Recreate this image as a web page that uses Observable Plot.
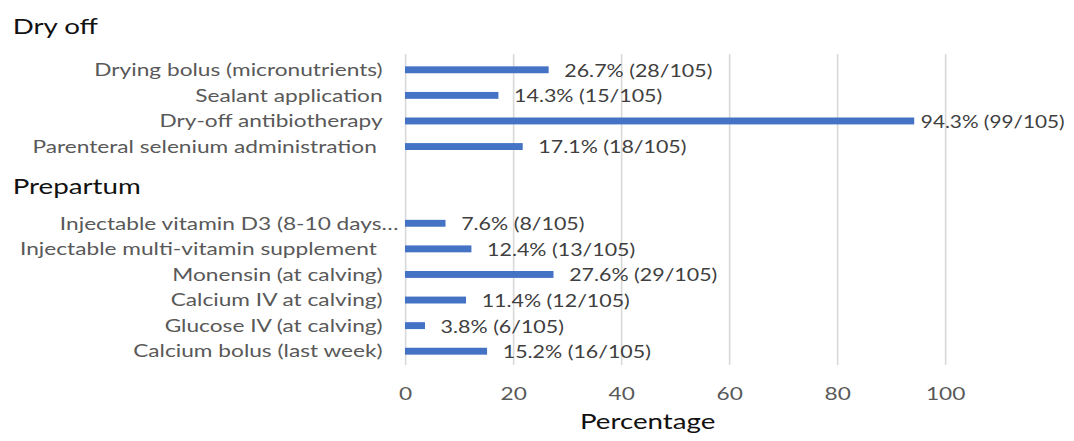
<!DOCTYPE html>
<html><head><meta charset="utf-8">
<script src="https://cdn.jsdelivr.net/npm/d3@7"></script>
<script src="https://cdn.jsdelivr.net/npm/@observablehq/plot@0.6"></script>
<style>body{margin:0;background:#fff;} #chart svg{display:block}</style>
</head><body><div id="chart"></div>
<script>
// ---- data ----
const categories = [
  "Drying bolus (micronutrients)",
  "Sealant application",
  "Dry-off antibiotherapy",
  "Parenteral selenium administration ",
  "Injectable vitamin D3 (8-10 days…",
  "Injectable multi-vitamin supplement ",
  "Monensin (at calving)",
  "Calcium IV at calving)",
  "Glucose IV (at calving)",
  "Calcium bolus (last week)"
];
const values = [26.6, 17.3, 94.3, 21.8, 7.5, 12.3, 27.5, 11.3, 3.7, 15.2];
const valueLabels = [
  "26.7% (28/105)", "14.3% (15/105)", "94.3% (99/105)", "17.1% (18/105)",
  "7.6% (8/105)", "12.4% (13/105)", "27.6% (29/105)", "11.4% (12/105)",
  "3.8% (6/105)", "15.2% (16/105)"
];
const groups = ["Dry off","Dry off","Dry off","Dry off",
  "Prepartum","Prepartum","Prepartum","Prepartum","Prepartum","Prepartum"];
const groupTitles = ["Dry off", "Prepartum"];
const spacerSlots = ["spacer-1", "spacer-2"];
const xTicks = [0, 20, 40, 60, 80, 100];
const xTitle = "Percentage";

// ---- layout ----
const rows = categories.map((c, i) => ({category: c, value: values[i], label: valueLabels[i], group: groups[i]}));
const yDomain = [...categories.slice(0, 4), ...spacerSlots, ...categories.slice(4)];
const S = 1.26, W = 1074, H = 441, W0 = W / S;
const font = "Lato, 'Open Sans', sans-serif";
const shown = s => s.replace(/ $/, "\u00a0");
const truncated = d => d.category.endsWith("…");
const nearEdge = d => d.value > 90;

const chart = Plot.plot({
  width: W0, height: H,
  marginLeft: 405 / S, marginRight: W0 - 945 / S, marginTop: 57, marginBottom: 77,
  style: {fontFamily: font, background: "white", overflow: "visible"},
  x: {domain: [0, 100]},
  y: {domain: yDomain, paddingInner: 0.73, paddingOuter: 0.365, align: 0.5, round: false, axis: null},
  marks: [
    Plot.ruleX(xTicks, {stroke: "#d9d9d9", strokeWidth: 1.3, insetTop: -3, insetBottom: -1}),
    Plot.barX(rows, {x: "value", y: "category", fill: "#4472c4"}),
    Plot.text(rows.filter(d => !nearEdge(d)), {x: "value", y: "category", text: "label", textAnchor: "start",
      dx: 15 / S, dy: 1, fontSize: 17, fill: "#404040"}),
    Plot.text(rows.filter(nearEdge), {x: "value", y: "category", text: "label", textAnchor: "start",
      dx: 6 / S, dy: 1, fontSize: 16.5, fill: "#404040"}),
    Plot.text(rows.filter(d => !truncated(d)), {frameAnchor: "left", y: "category", text: d => shown(d.category),
      textAnchor: "end", dx: -23 / S, fontSize: 18, fill: "#595959"}),
    Plot.text(rows.filter(truncated), {frameAnchor: "left", y: "category", text: d => d.category,
      textAnchor: "end", dx: -7 / S, fontSize: 18, fill: "#595959"}),
    Plot.axisX({ticks: xTicks, tickSize: 0, tickPadding: 23, fontSize: 18, color: "#595959", label: null}),
    Plot.text([xTitle], {frameAnchor: "bottom", dy: 64, dx: -28 / S, fontSize: 22, fill: "#111"}),
    Plot.text([{t: groupTitles[0], at: categories[0]}], {frameAnchor: "left", y: "at", text: "t",
      textAnchor: "start", dx: 12 / S - 405 / S, dy: -43, fontSize: 22, fill: "#111"}),
    Plot.text([{t: groupTitles[1], at: spacerSlots[0]}], {frameAnchor: "left", y: "at", text: "t",
      textAnchor: "start", dx: 12 / S - 405 / S, dy: 14, fontSize: 22, fill: "#111"})
  ]
});
chart.setAttribute("width", W);
chart.setAttribute("height", H);
chart.setAttribute("preserveAspectRatio", "none");
chart.style.width = W + "px";
chart.style.height = H + "px";
chart.style.maxWidth = "none";
document.getElementById("chart").appendChild(chart);
</script>
</body></html>
